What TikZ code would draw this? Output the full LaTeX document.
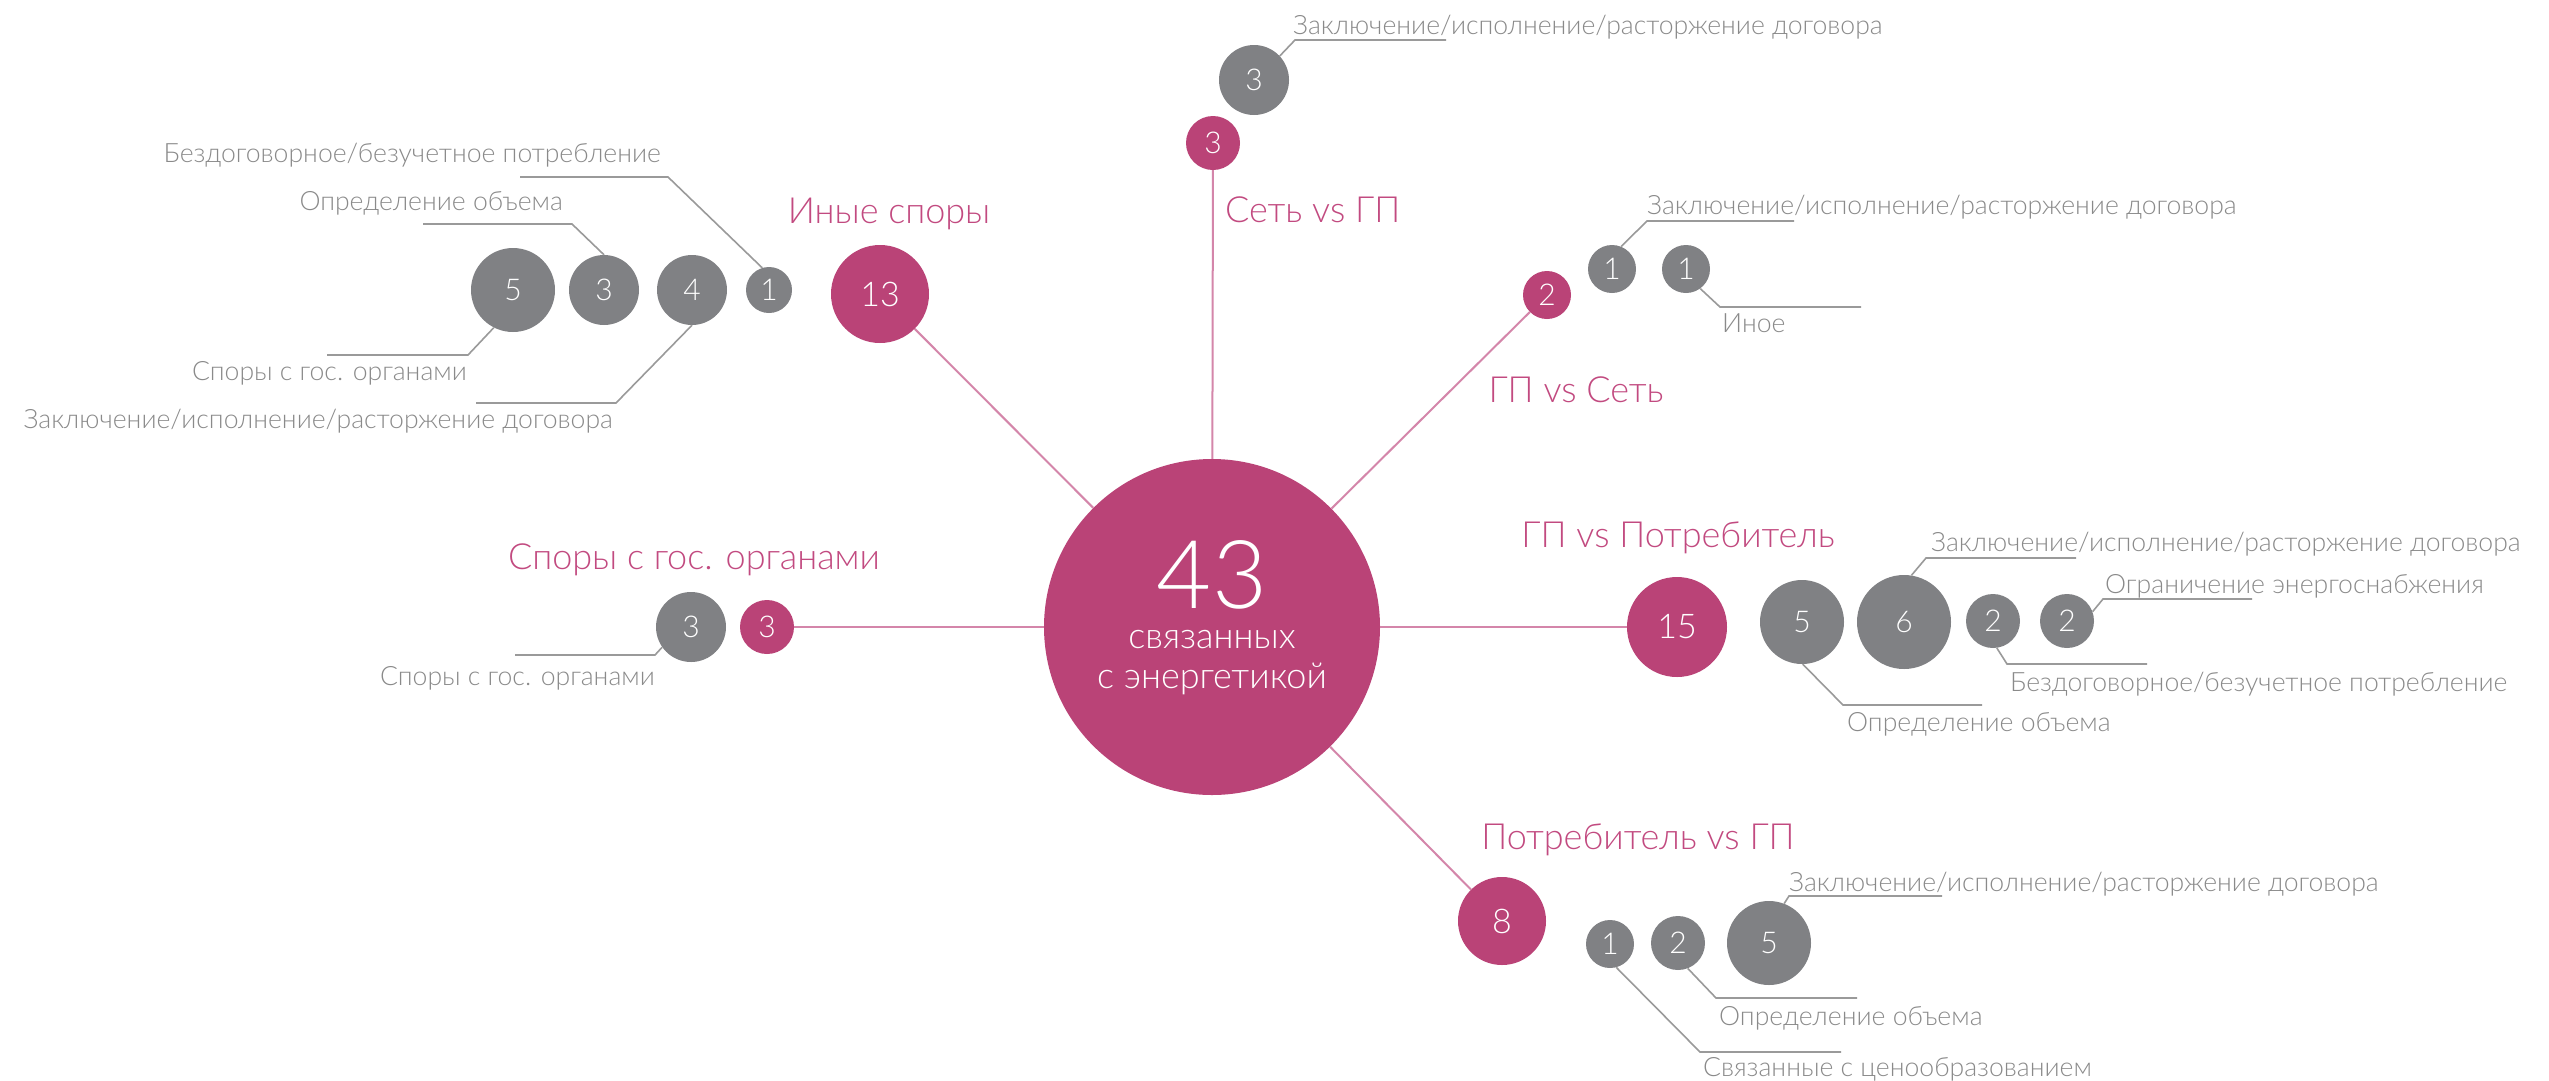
\documentclass[tikz,border=0pt]{standalone}
\usepackage{fontspec}
\IfFontExistsTF{Lato Light}{\setmainfont{Lato Light}}{\setmainfont{Lato}}
\definecolor{magc}{HTML}{BA4377}
\definecolor{grayc}{HTML}{808184}
\definecolor{lblc}{HTML}{8A8A8A}
\definecolor{ttlc}{HTML}{C24A80}
\definecolor{spokec}{HTML}{D486AA}
\definecolor{leadc}{HTML}{9A9A9A}
\newcommand\dgfont{\fontsize{30}{36}\selectfont}
\newcommand\bgfont{\fontsize{34}{40}\selectfont}
\newcommand\lbfont{\fontsize{26.6}{30}\selectfont}
\newcommand\tlfont{\fontsize{36}{42}\selectfont}
\begin{document}
\begin{tikzpicture}[x=1pt,y=-1pt,
  mag/.style={circle, fill=magc, inner sep=0pt, text=white, font=\dgfont},
  gry/.style={circle, fill=grayc, inner sep=0pt, text=white, font=\dgfont},
  big/.style={font=\bgfont},
  lbl/.style={inner sep=0pt, text=lblc, font=\lbfont},
  ttl/.style={inner sep=0pt, text=ttlc, font=\tlfont},
  spoke/.style={draw=spokec, line width=2pt},
  leader/.style={draw=leadc, line width=1.6pt}]
\fill[white] (0,0) rectangle (2549,1080);
\useasboundingbox (0,0) rectangle (2549,1080);

% centre
\node[mag, minimum size=336pt] (C) at (1212,627) {};
\node[inner sep=0pt, text=white, font=\fontsize{95}{100}\selectfont] (n43) at (1212,575) {43};
\node[inner sep=0pt, text=white, font=\fontsize{36}{40}\selectfont, anchor=base] (s1) at (1212,648) {связанных};
\node[inner sep=0pt, text=white, font=\fontsize{36}{40}\selectfont, anchor=base] (s2) at (1212,688) {с энергетикой};

% branch circles
\node[mag, big, minimum size=98pt] (m13) at (880,294) {13};
\node[mag, minimum size=54pt] (m3t) at (1213,143) {3};
\node[gry, minimum size=70pt] (g3t) at (1254,80) {3};
\node[mag, minimum size=48pt] (m2) at (1547,295) {2};
\node[gry, minimum size=48pt] (g1a) at (1612,269) {1};
\node[gry, minimum size=48pt] (g1b) at (1686,269) {1};
\node[mag, big, minimum size=100pt] (m15) at (1677,627) {15};
\node[gry, minimum size=84pt] (g5r) at (1802,622) {5};
\node[gry, minimum size=94pt] (g6) at (1904,622) {6};
\node[gry, minimum size=54pt] (g2a) at (1993,621) {2};
\node[gry, minimum size=54pt] (g2b) at (2067,621) {2};
\node[mag, minimum size=54pt] (m3l) at (767,627) {3};
\node[gry, minimum size=70pt] (g3m) at (691,627) {3};
\node[gry, minimum size=84pt] (g5l) at (513,290) {5};
\node[gry, minimum size=70pt] (g3l) at (604,290) {3};
\node[gry, minimum size=70pt] (g4l) at (692,290) {4};
\node[gry, minimum size=46pt] (g1l) at (769,290) {1};
\node[mag, big, minimum size=88pt] (m8) at (1502,921) {8};
\node[gry, minimum size=48pt] (g1c) at (1610,944) {1};
\node[gry, minimum size=54pt] (g2c) at (1678,943) {2};
\node[gry, minimum size=84pt] (g5b) at (1769,943) {5};

% spokes
\draw[spoke] (C) -- (m13);
\draw[spoke] (C) -- (m3t);
\draw[spoke] (C) -- (m2);
\draw[spoke] (C) -- (m15);
\draw[spoke] (C) -- (m8);
\draw[spoke] (C) -- (m3l);

% titles
\node[ttl] (t1) at (889,214) {Иные споры};
\node[ttl, anchor=west] (t2) at (1225,210) {Сеть vs ГП};
\node[ttl] (t3) at (1576,390) {ГП vs Сеть};
\node[ttl] (t4) at (1678,538) {ГП vs Потребитель};
\node[ttl] (t5) at (694,560) {Споры с гос. органами};
\node[ttl] (t6) at (1638,840) {Потребитель vs ГП};

% labels
\node[lbl, anchor=base west] (L1) at (1293,34) {Заключение/исполнение/расторжение договора};
\node[lbl, anchor=base west] (L2) at (1647,214) {Заключение/исполнение/расторжение договора};
\node[lbl, anchor=base west] (L3) at (1722,332) {Иное};
\node[lbl, anchor=base east] (L4) at (661,162) {Бездоговорное/безучетное потребление};
\node[lbl, anchor=base east] (L5) at (563,210) {Определение объема};
\node[lbl, anchor=base east] (L6) at (467,380) {Споры с гос. органами};
\node[lbl, anchor=base east] (L7) at (613,428) {Заключение/исполнение/расторжение договора};
\node[lbl, anchor=base east] (L8) at (655,685) {Споры с гос. органами};
\node[lbl, anchor=base west] (L9) at (1931,551) {Заключение/исполнение/расторжение договора};
\node[lbl, anchor=base west] (L10) at (2105,593) {Ограничение энергоснабжения};
\node[lbl, anchor=base west] (L11) at (2010,691) {Бездоговорное/безучетное потребление};
\node[lbl, anchor=base west] (L12) at (1847,731) {Определение объема};
\node[lbl, anchor=base west] (L13) at (1789,891) {Заключение/исполнение/расторжение договора};
\node[lbl, anchor=base west] (L14) at (1719,1025) {Определение объема};
\node[lbl, anchor=base west] (L15) at (1703,1076) {Связанные с ценообразованием};

% leader bends and ends
\coordinate (a1) at (1295,40);   \coordinate (b1) at (1446,40);
\coordinate (a2) at (1647,221);  \coordinate (b2) at (1794,221);
\coordinate (a3) at (1720,307);  \coordinate (b3) at (1861,307);
\coordinate (a4) at (668,177);   \coordinate (b4) at (520,177);
\coordinate (a5) at (572,224);   \coordinate (b5) at (423,224);
\coordinate (a6) at (468,355);   \coordinate (b6) at (327,355);
\coordinate (a7) at (616,403);   \coordinate (b7) at (476,403);
\coordinate (a8) at (655,655);   \coordinate (b8) at (515,655);
\coordinate (a9) at (1926,558);  \coordinate (b9) at (2076,558);
\coordinate (a10) at (2103,599); \coordinate (b10) at (2252,599);
\coordinate (a11) at (2007,664); \coordinate (b11) at (2147,664);
\coordinate (a12) at (1843,705); \coordinate (b12) at (1982,705);
\coordinate (a13) at (1789,896); \coordinate (b13) at (1942,896);
\coordinate (a14) at (1716,998); \coordinate (b14) at (1857,998);
\coordinate (a15) at (1700,1052);\coordinate (b15) at (1841,1052);

\draw[leader] (g3t.43) -- (a1) -- (b1);
\draw[leader] (g1a.68) -- (a2) -- (b2);
\draw[leader] (g1b.-54) -- (a3) -- (b3);
\draw[leader] (g1l.107) -- (a4) -- (b4);
\draw[leader] (g3l.90) -- (a5) -- (b5);
\draw[leader] (g5l.243) -- (a6) -- (b6);
\draw[leader] (g4l.270) -- (a7) -- (b7);
\draw[leader] (g3m.215) -- (a8) -- (b8);
\draw[leader] (g6.81) -- (a9) -- (b9);
\draw[leader] (g2b.20) -- (a10) -- (b10);
\draw[leader] (g2a.-82) -- (a11) -- (b11);
\draw[leader] (g5r.-89) -- (a12) -- (b12);
\draw[leader] (g5b.69) -- (a13) -- (b13);
\draw[leader] (g2c.-69) -- (a14) -- (b14);
\draw[leader] (g1c.-75) -- (a15) -- (b15);
\end{tikzpicture}
\end{document}
